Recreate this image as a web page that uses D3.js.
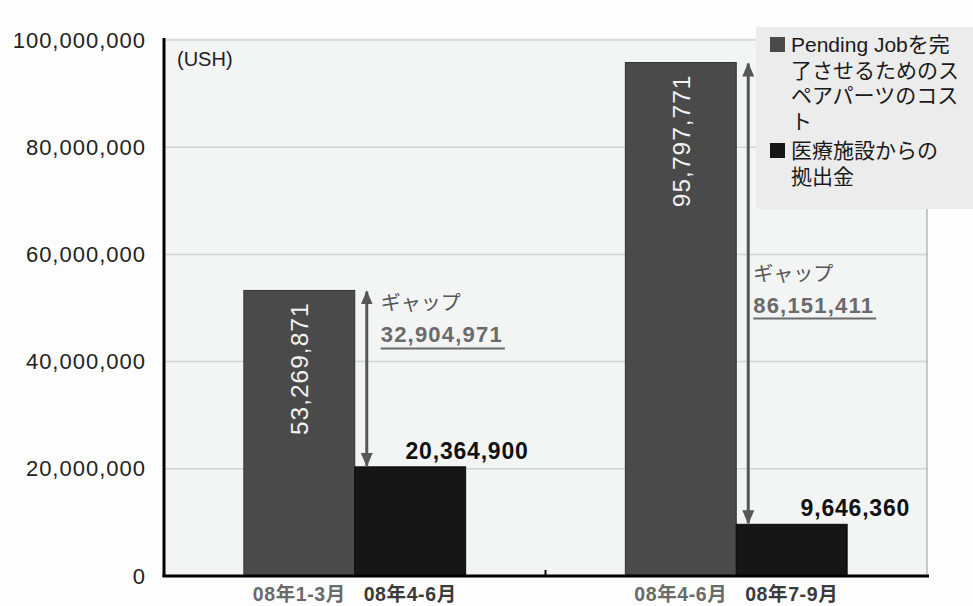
<!DOCTYPE html>
<html>
<head>
<meta charset="utf-8">
<script src="https://cdn.jsdelivr.net/npm/d3@7"></script>
<style>
  body { margin: 0; background: #fdfdfd; }
  svg { display: block; }
  text { font-family: "Liberation Sans", Arial, "Noto Sans CJK JP", sans-serif; }
</style>
</head>
<body>
<svg id="chart" width="973" height="606"></svg>
<script>
// Spare-parts cost for pending jobs vs. contribution from health facilities (USH)
const partsPeriods = ["08年1-3月", "08年4-6月"];
const partsCost = [53269871, 95797771];
const contributionPeriods = ["08年4-6月", "08年7-9月"];
const contribution = [20364900, 9646360];
const yTicks = [0, 20000000, 40000000, 60000000, 80000000, 100000000];
const unitLabel = "(USH)";
const gapTitle = "ギャップ";
const legendLines = [
  ["Pending Jobを完", "了させるためのス", "ペアパーツのコス", "ト"],
  ["医療施設からの", "拠出金"]
];

const colors = { parts: "#4a4a4a", contribution: "#161616", arrow: "#575757" };
const fmt = d3.format(",");

const svg = d3.select("#chart");
const plot = { left: 164, right: 927, top: 38, bottom: 576 };

const x = d3.scaleBand().domain(d3.range(partsCost.length)).range([plot.left, plot.right]).padding(0);
const xInner = d3.scaleBand().domain([0, 1]).range([0, x.bandwidth()]).paddingInner(0).paddingOuter(0.72);
const y = d3.scaleLinear().domain([0, 100000000]).range([plot.bottom, 40]);

// plot background
svg.append("rect")
  .attr("x", plot.left).attr("y", plot.top)
  .attr("width", plot.right - plot.left).attr("height", plot.bottom - plot.top)
  .attr("fill", "#f3f4f4");

// horizontal grid lines
svg.append("g").selectAll("line").data(yTicks.filter(d => d > 0)).join("line")
  .attr("x1", plot.left).attr("x2", plot.right)
  .attr("y1", d => y(d)).attr("y2", d => y(d))
  .attr("stroke", "#d4d4d4").attr("stroke-width", 1.5);

// right frame line
svg.append("line")
  .attr("x1", plot.right).attr("x2", plot.right)
  .attr("y1", plot.top).attr("y2", plot.bottom)
  .attr("stroke", "#a8a8a8").attr("stroke-width", 1.2);

// bars
const groups = svg.append("g").selectAll("g").data(d3.range(partsCost.length)).join("g")
  .attr("transform", i => `translate(${x(i)},0)`);

groups.append("rect")
  .attr("x", xInner(0)).attr("width", xInner.bandwidth())
  .attr("y", i => y(partsCost[i])).attr("height", i => y(0) - y(partsCost[i]))
  .attr("fill", colors.parts).attr("stroke", "#333").attr("stroke-width", 1);

groups.append("rect")
  .attr("x", xInner(1)).attr("width", xInner.bandwidth())
  .attr("y", i => y(contribution[i])).attr("height", i => y(0) - y(contribution[i]))
  .attr("fill", colors.contribution).attr("stroke", "#0a0a0a").attr("stroke-width", 1);

// rotated value labels inside the grey bars
groups.append("text")
  .attr("transform", i => `translate(${xInner(0) + xInner.bandwidth() / 2},${y(partsCost[i]) + 12}) rotate(-90)`)
  .attr("text-anchor", "end").attr("dy", "0.36em")
  .attr("fill", "#f2f2f2").attr("font-size", 24.5).attr("letter-spacing", 1)
  .text(i => fmt(partsCost[i]));

// value labels above the black bars
groups.append("text")
  .attr("x", xInner(1) + xInner.bandwidth() + 63)
  .attr("y", i => y(contribution[i]) - 8)
  .attr("text-anchor", "end")
  .attr("fill", "#111").attr("font-size", 23).attr("font-weight", "bold").attr("letter-spacing", 0.8)
  .text(i => fmt(contribution[i]));

// double-headed gap arrows
const defs = svg.append("defs");
["start", "end"].forEach(k => {
  defs.append("marker")
    .attr("id", "arrow-" + k).attr("viewBox", "0 0 12 14")
    .attr("refX", 6).attr("refY", k === "end" ? 13 : 1)
    .attr("markerWidth", 12).attr("markerHeight", 14).attr("markerUnits", "userSpaceOnUse")
    .attr("orient", "0")
    .append("path")
    .attr("d", k === "end" ? "M0,0 L12,0 L6,14 Z" : "M0,14 L12,14 L6,0 Z")
    .attr("fill", colors.arrow);
});

const arrowX = () => xInner(0) + xInner.bandwidth() + 12;
groups.append("line")
  .attr("x1", arrowX).attr("x2", arrowX)
  .attr("y1", i => y(partsCost[i]) + 1).attr("y2", i => y(contribution[i]) - 1)
  .attr("stroke", colors.arrow).attr("stroke-width", 3)
  .attr("marker-start", "url(#arrow-start)").attr("marker-end", "url(#arrow-end)");

// gap notes next to the arrows
const gapNoteLayout = [{ dx: 14, dy: 20 }, { dx: 5, dy: 218 }];
groups.each(function (i) {
  const g = d3.select(this);
  const gx = arrowX() + gapNoteLayout[i].dx;
  const gy = y(partsCost[i]) + gapNoteLayout[i].dy;
  g.append("text")
    .attr("x", gx).attr("y", gy)
    .attr("fill", "#555").attr("font-size", 20)
    .text(gapTitle);
  const num = g.append("text")
    .attr("x", gx).attr("y", gy + 32)
    .attr("fill", "#6a6a6a").attr("font-size", 22).attr("font-weight", "bold").attr("letter-spacing", 1.2)
    .text(fmt(partsCost[i] - contribution[i]));
  const w = num.node().getComputedTextLength();
  g.append("line")
    .attr("x1", gx).attr("x2", gx + w + 2)
    .attr("y1", gy + 38).attr("y2", gy + 38)
    .attr("stroke", "#6a6a6a").attr("stroke-width", 2);
});

// category labels under each bar
groups.append("text")
  .attr("x", xInner(0) + xInner.bandwidth() / 2).attr("y", 601)
  .attr("text-anchor", "middle").attr("fill", "#6a6a6a")
  .attr("font-size", 19.5).attr("font-weight", "bold").attr("letter-spacing", 0.6)
  .text(i => partsPeriods[i]);
groups.append("text")
  .attr("x", xInner(1) + xInner.bandwidth() / 2).attr("y", 601)
  .attr("text-anchor", "middle").attr("fill", "#3a3a3a")
  .attr("font-size", 19.5).attr("font-weight", "bold").attr("letter-spacing", 0.6)
  .text(i => contributionPeriods[i]);

// y axis
const yAxis = svg.append("g").attr("transform", `translate(${plot.left},0)`)
  .call(d3.axisLeft(y).tickValues(yTicks).tickFormat(fmt).tickSize(0).tickPadding(18));
yAxis.select(".domain").attr("stroke", "#000").attr("stroke-width", 3)
  .attr("d", `M0,${plot.top}V${plot.bottom + 1}`);
yAxis.selectAll("text")
  .attr("font-size", 22).attr("fill", "#222").attr("letter-spacing", 1)
  .attr("font-family", "'Liberation Sans', Arial, sans-serif");

// x axis baseline with a divider tick between the two groups
const xAxis = svg.append("g").attr("transform", `translate(0,${plot.bottom})`);
xAxis.append("line")
  .attr("x1", plot.left - 1.5).attr("x2", plot.right + 2)
  .attr("stroke", "#000").attr("stroke-width", 3);
xAxis.append("line")
  .attr("x1", x(1)).attr("x2", x(1)).attr("y1", 0).attr("y2", -6)
  .attr("stroke", "#000").attr("stroke-width", 2);

// unit label
svg.append("text")
  .attr("x", 177).attr("y", 66)
  .attr("fill", "#222").attr("font-size", 20)
  .text(unitLabel);

// legend: swatches plus wrapped entry texts
const legend = svg.append("g");
legend.append("rect")
  .attr("x", 756).attr("y", 27).attr("width", 217).attr("height", 182)
  .attr("fill", "#ececec");
const legendColors = [colors.parts, colors.contribution];
const legendStarts = [52, 158];
const legendLineGap = 25.5;
legendColors.forEach((c, k) => {
  legend.append("rect")
    .attr("x", 770).attr("y", legendStarts[k] - 15).attr("width", 15).attr("height", 15)
    .attr("fill", c);
});
legendLines.forEach((lines, k) => {
  const t = legend.append("text")
    .attr("fill", "#1a1a1a").attr("font-size", 21);
  lines.forEach((line, j) => {
    t.append("tspan")
      .attr("x", 791).attr("y", legendStarts[k] + j * legendLineGap)
      .text(line);
  });
});
</script>
</body>
</html>
